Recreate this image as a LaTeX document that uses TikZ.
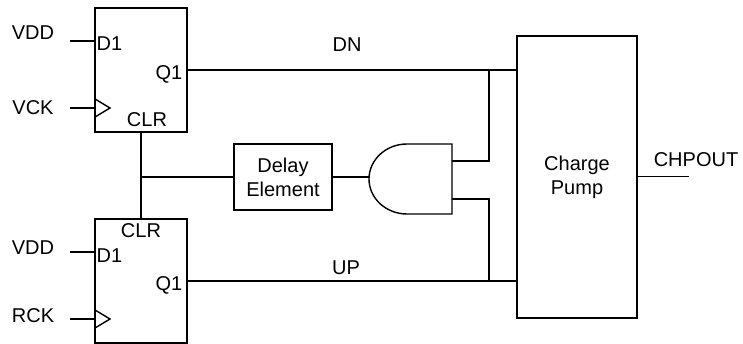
\documentclass[tikz,border=0pt]{standalone}
\usepackage{fontspec}
\setmainfont{Liberation Sans}
\begin{document}
\begin{tikzpicture}[x=1pt,y=-1pt,line width=1.4pt,
    ffbox/.style={draw,minimum width=92pt,minimum height=124pt,inner sep=0pt},
    blockbox/.style={draw,align=center,inner sep=0pt},
    lbl/.style={inner sep=0pt,font=\fontsize{20}{24}\selectfont}]
  \useasboundingbox (0,0) rectangle (743,344);
  % flip-flops
  \node[ffbox] (ffv) at (141,70) {};
  \node[ffbox] (ffr) at (141,281) {};
  % delay and charge pump
  \node[blockbox,lbl,minimum width=98pt,minimum height=66pt] (delay) at (283,177) {Delay\\Element};
  \node[blockbox,lbl,minimum width=120pt,minimum height=282pt] (cp) at (577,177) {Charge\\Pump};
  % and gate
  \draw (452,144) -- (407,144) arc[start angle=-90,end angle=-270,x radius=38,y radius=35] -- (452,214) -- cycle;
  \coordinate (andout) at (369,177);
  \coordinate (andin1) at (452,161);
  \coordinate (andin2) at (452,199);
  \coordinate (jdn) at (489,70);
  \coordinate (jup) at (489,281);
  % pins
  \coordinate (dv) at (70,41);
  \coordinate (cv) at (70,108);
  \coordinate (dr) at (70,252);
  \coordinate (cr) at (70,319);
  \coordinate (chp) at (689,177);
  % clock triangles
  \draw (95,99) -- (110,108) -- (95,117);
  \draw (95,310) -- (110,319) -- (95,328);
  % labels
  \node[lbl] (vdd1) at (33,33) {VDD};
  \node[lbl] (vck) at (33,108) {VCK};
  \node[lbl] (vdd2) at (33,248) {VDD};
  \node[lbl] (rck) at (33,316) {RCK};
  \node[lbl,anchor=west] (d1v) at (96,44) {D1};
  \node[lbl,anchor=west] (d1r) at (96,256) {D1};
  \node[lbl,anchor=east] (q1v) at (183,74) {Q1};
  \node[lbl,anchor=east] (q1r) at (183,285) {Q1};
  \node[lbl] (clrv) at (147,120) {CLR};
  \node[lbl] (clrr) at (141,231) {CLR};
  \node[lbl] (dn) at (347,45) {DN};
  \node[lbl] (up) at (346,268) {UP};
  \node[lbl] (chpout) at (696,160) {CHPOUT};
  % wires
  \draw (dv) -- (dv -| ffv.west);
  \draw (cv) -- (cv -| ffv.west);
  \draw (dr) -- (dr -| ffr.west);
  \draw (cr) -- (cr -| ffr.west);
  \draw (ffv.east) -- (ffv.east -| cp.west);
  \draw (ffr.east) -- (ffr.east -| cp.west);
  \draw (ffv.south) -- (ffr.north);
  \draw (ffv.south |- delay.west) -- (delay.west);
  \draw (delay.east) -- (andout);
  \draw (andin1) -| (jdn);
  \draw (andin2) -| (jup);
  \draw[line width=1pt] (cp.east) -- (chp);
\end{tikzpicture}
\end{document}
